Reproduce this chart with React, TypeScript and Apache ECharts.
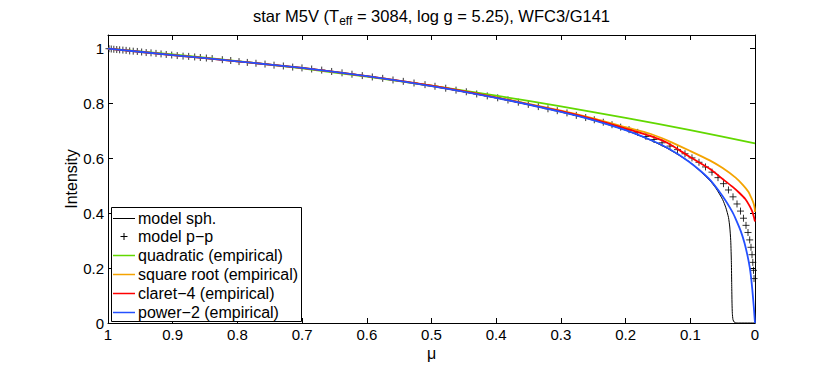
import React, { useEffect, useRef } from "react";
import * as echarts from "echarts";

const FONT = '"Liberation Sans", Arial, Helvetica, sans-serif';

// x ticks (mu) and y ticks (intensity)
const muTicks = [1, 0.9, 0.8, 0.7, 0.6, 0.5, 0.4, 0.3, 0.2, 0.1, 0];
const yTicks = [0, 0.2, 0.4, 0.6, 0.8, 1];

const legendNames = [
  "model sph.",
  "model p\u2212p",
  "quadratic (empirical)",
  "square root (empirical)",
  "claret\u22124 (empirical)",
  "power\u22122 (empirical)",
];
const seriesColors = ["#000000", "#000000", "#62d800", "#f4a300", "#ff0000", "#2450ff"];

// model sph. (black line)
const sphMu = [1, 0.9, 0.8, 0.7, 0.6, 0.5, 0.4, 0.3, 0.25, 0.2, 0.162, 0.135, 0.1, 0.07, 0.06, 0.05, 0.045, 0.041, 0.039, 0.0375, 0.0365, 0.036, 0.0355, 0.035, 0.034, 0.032, 0.028, 0];
const sphI = [1, 0.977, 0.954, 0.93, 0.9, 0.864, 0.821, 0.77, 0.74, 0.703, 0.667, 0.636, 0.585, 0.52, 0.49, 0.45, 0.42, 0.385, 0.35, 0.3, 0.22, 0.14, 0.07, 0.035, 0.012, 0.003, 0, 0];

// model p-p (plus markers)
const ppMu = [0.9985, 0.995, 0.991, 0.9865, 0.982, 0.977, 0.972, 0.9665, 0.961, 0.9547, 0.948, 0.941, 0.9335, 0.9258, 0.918, 0.91, 0.9015, 0.893, 0.884, 0.8753, 0.866, 0.8573, 0.848, 0.839,
  0.8233, 0.8103, 0.7975, 0.7847, 0.7713, 0.7573, 0.7434, 0.729, 0.7145, 0.7002, 0.6852,
  0.6697, 0.6543, 0.6383, 0.6229, 0.607, 0.5915, 0.5754, 0.5595, 0.5436, 0.527, 0.51,
  0.4946, 0.478, 0.4621, 0.4462, 0.4301, 0.4138, 0.3977, 0.3818, 0.3658, 0.3504, 0.3349,
  0.32, 0.3056, 0.2906, 0.2762, 0.2617, 0.2484, 0.2345, 0.221, 0.2076, 0.1947, 0.1813, 0.1685,
  0.1561, 0.1437, 0.1314, 0.1198, 0.1082, 0.0974, 0.0866, 0.0765, 0.0665, 0.0572, 0.0487, 0.041, 0.034, 0.0278, 0.0224, 0.0178, 0.0139, 0.0108, 0.0082, 0.0062, 0.0046, 0.0034, 0.0023, 0.0015];
const ppI = [1.0, 0.999, 0.998, 0.997, 0.996, 0.995, 0.994, 0.992, 0.991, 0.99, 0.988, 0.986, 0.985, 0.983, 0.981, 0.979, 0.977, 0.975, 0.973, 0.972, 0.97, 0.968, 0.966, 0.964,
  0.96, 0.957, 0.953, 0.95, 0.947, 0.944, 0.94, 0.937, 0.933, 0.93, 0.926,
  0.922, 0.917, 0.912, 0.907, 0.902, 0.897, 0.892, 0.886, 0.881, 0.875, 0.869,
  0.863, 0.856, 0.849, 0.843, 0.835, 0.828, 0.821, 0.813, 0.805, 0.797, 0.789,
  0.781, 0.774, 0.766, 0.757, 0.749, 0.741, 0.732, 0.723, 0.714, 0.705, 0.695, 0.68,
  0.669, 0.657, 0.645, 0.632, 0.617, 0.602, 0.586, 0.569, 0.55, 0.53, 0.508, 0.485, 0.46, 0.434, 0.408, 0.382, 0.356, 0.33, 0.303, 0.276, 0.249, 0.221, 0.192, 0.162];

// quadratic (green)
const quadMu = [1, 0.9, 0.8, 0.7, 0.6, 0.5, 0.4, 0.3, 0.2, 0.1, 0];
const quadI = [1, 0.979, 0.955, 0.928, 0.898, 0.865, 0.829, 0.79, 0.748, 0.703, 0.655];

// square root (orange)
const sqrtMu = [1, 0.9, 0.8, 0.7, 0.6, 0.5, 0.4, 0.3, 0.25, 0.2, 0.162, 0.135, 0.1, 0.07, 0.05, 0.03, 0.0185, 0.01, 0.0056, 0.002, 0.0005, 0];
const sqrtI = [1, 0.977, 0.954, 0.93, 0.9, 0.865, 0.823, 0.774, 0.746, 0.714, 0.69, 0.665, 0.627, 0.593, 0.565, 0.53, 0.503, 0.478, 0.456, 0.435, 0.418, 0.405];

// claret-4 (red)
const claretMu = [1, 0.9, 0.8, 0.7, 0.6, 0.5, 0.4, 0.3, 0.25, 0.2, 0.162, 0.135, 0.103, 0.07, 0.05, 0.035, 0.024, 0.015, 0.0082, 0.004, 0.0015, 0];
const claretI = [1, 0.977, 0.954, 0.93, 0.9, 0.865, 0.822, 0.772, 0.743, 0.709, 0.682, 0.656, 0.609, 0.562, 0.525, 0.497, 0.474, 0.452, 0.426, 0.405, 0.385, 0.37];

// power-2 (blue)
const powerMu = [1, 0.9, 0.8, 0.7, 0.6, 0.5, 0.4, 0.3, 0.25, 0.2, 0.162, 0.135, 0.103, 0.0716, 0.05, 0.035, 0.0294, 0.022, 0.016, 0.012, 0.0082, 0.006, 0.004, 0.0019, 0.0008, 0];
const powerI = [1, 0.977, 0.954, 0.93, 0.9, 0.864, 0.821, 0.77, 0.74, 0.703, 0.668, 0.638, 0.59, 0.527, 0.462, 0.405, 0.377, 0.335, 0.29, 0.25, 0.204, 0.165, 0.118, 0.06, 0.025, 0];

const pairs = (xs: number[], ys: number[]) => xs.map((x, i) => [x, ys[i]]);

export default function App() {
  const ref = useRef<HTMLDivElement>(null);
  useEffect(() => {
    if (!ref.current) return;
    const chart = echarts.init(ref.current, undefined, { renderer: "svg" });
    const axisLine = { show: true, onZero: false, lineStyle: { color: "#000", width: 1 } };
    const axisTick = { show: true, inside: true, length: 5, lineStyle: { color: "#000", width: 1 } };
    const label = { color: "#000", fontSize: 15, fontFamily: FONT };
    const lineSeries = (i: number, xs: number[], ys: number[], width: number, z: number) => ({
      name: legendNames[i],
      type: "line",
      data: pairs(xs, ys),
      symbol: "none",
      smooth: 0.2,
      lineStyle: { color: seriesColors[i], width },
      itemStyle: { color: seriesColors[i] },
      z,
    });

    // legend drawn as graphic elements (box, samples, texts)
    const lgLeft = 111.5, lgTop = 207.5, lgW = 190, lgH = 114;
    const rowY0 = 217.5, rowStep = 18.9;
    const legendEls: any[] = [
      { type: "rect", z: 100, shape: { x: lgLeft, y: lgTop, width: lgW, height: lgH }, style: { fill: "#fff", stroke: "#000", lineWidth: 1 } },
    ];
    legendNames.forEach((name, i) => {
      const yy = Math.round(rowY0 + i * rowStep) + 0.5;
      if (i === 1) {
        legendEls.push({ type: "line", z: 101, shape: { x1: 120.5, y1: yy, x2: 127.5, y2: yy }, style: { stroke: "#000", lineWidth: 1 } });
        legendEls.push({ type: "line", z: 101, shape: { x1: 124, y1: yy - 3.5, x2: 124, y2: yy + 3.5 }, style: { stroke: "#000", lineWidth: 1 } });
      } else {
        legendEls.push({ type: "line", z: 101, shape: { x1: 113, y1: yy, x2: 135, y2: yy }, style: { stroke: seriesColors[i], lineWidth: i === 0 ? 1 : 1.5 } });
      }
      legendEls.push({ type: "text", z: 101, x: 138, y: yy, style: { text: name, fontSize: 16, fontFamily: FONT, fill: "#000", verticalAlign: "middle", align: "left" } });
    });

    chart.setOption({
      animation: false,
      backgroundColor: "#fff",
      grid: { left: 108, right: 75, top: 35, bottom: 40, containLabel: false },
      xAxis: [
        {
          type: "value", min: 0, max: 1, interval: 0.1, inverse: true, position: "bottom",
          name: "\u03bc", nameLocation: "middle", nameGap: 22, nameMoveOverlap: false,
          nameTextStyle: { color: "#000", fontSize: 16, fontFamily: FONT },
          axisLine, axisTick,
          axisLabel: { ...label, margin: 4, formatter: (v: number) => String(muTicks.find((t) => Math.abs(t - v) < 1e-6) ?? v) },
          splitLine: { show: false },
        },
        {
          type: "value", min: 0, max: 1, interval: 0.1, inverse: true, position: "top",
          axisLine, axisTick, axisLabel: { show: false }, splitLine: { show: false },
        },
      ],
      yAxis: [
        {
          type: "value", min: 0, max: 1.05, interval: 0.2, position: "left",
          name: "Intensity", nameLocation: "middle", nameGap: 29, nameRotate: 90, nameMoveOverlap: false,
          nameTextStyle: { color: "#000", fontSize: 16, fontFamily: FONT },
          axisLine, axisTick,
          axisLabel: { ...label, margin: 4, showMaxLabel: false, formatter: (v: number) => { const t = yTicks.find((k) => Math.abs(k - v) < 1e-6); return t === undefined ? "" : String(t); } },
          splitLine: { show: false },
        },
        {
          type: "value", min: 0, max: 1.05, interval: 0.2, position: "right",
          axisLine, axisTick, axisLabel: { show: false }, splitLine: { show: false },
        },
      ],
      graphic: [
        {
          type: "text", x: 431.5, y: 4, z: 10,
          style: {
            text: "{a|star M5V (T}{s|eff}{a| = 3084, log g = 5.25), WFC3/G141}",
            align: "center", verticalAlign: "top",
            rich: {
              a: { fontSize: 16.5, fontFamily: FONT, fill: "#000" },
              s: { fontSize: 12, fontFamily: FONT, fill: "#000", padding: [11, 0, 0, 0] },
            },
          },
        },
        ...legendEls,
      ],
      series: [
        lineSeries(0, sphMu, sphI, 1, 2),
        {
          name: legendNames[1],
          type: "scatter",
          data: pairs(ppMu, ppI),
          symbol: "path://M5,0L5,10M0,5L10,5",
          symbolSize: 7,
          itemStyle: { color: "transparent", borderColor: "#000", borderWidth: 1 },
          z: 3,
        },
        lineSeries(2, quadMu, quadI, 1.8, 4),
        lineSeries(3, sqrtMu, sqrtI, 1.8, 5),
        lineSeries(4, claretMu, claretI, 1.8, 6),
        lineSeries(5, powerMu, powerI, 1.8, 7),
      ],
    });
    return () => chart.dispose();
  }, []);
  return <div ref={ref} style={{ position: "absolute", left: 0, top: 0, width: 830, height: 366, background: "#fff" }} />;
}
